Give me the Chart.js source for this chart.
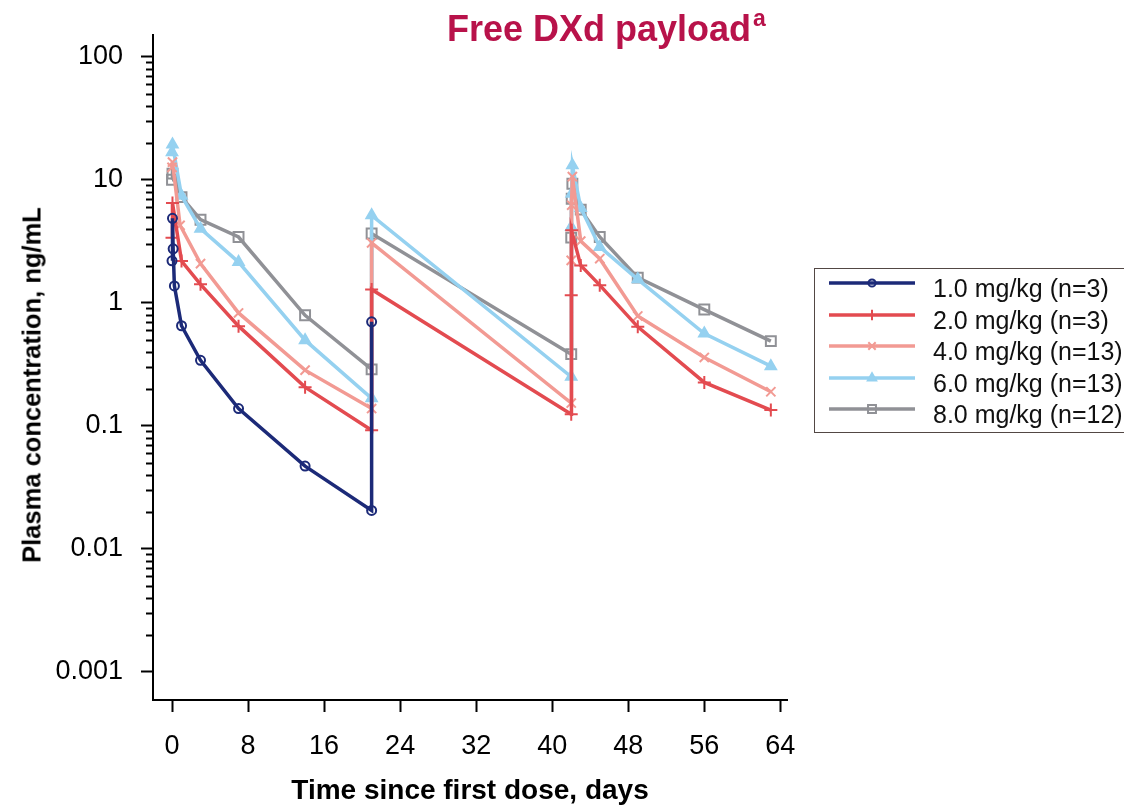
<!DOCTYPE html>
<html>
<head>
<meta charset="utf-8">
<script src="https://cdn.jsdelivr.net/npm/chart.js@4.4.1/dist/chart.umd.min.js"></script>
<style>
  html, body { margin: 0; padding: 0; background: #fff; overflow: hidden; }
  #wrap { position: relative; width: 1124px; height: 808px; font-family: "Liberation Sans", Arial, sans-serif; }
  #chart { position: absolute; left: 0; top: 0; }
  #title {
    position: absolute; left: 447px; top: 11px;
    font-size: 36px; line-height: 36px; font-weight: bold; color: #b8124a; white-space: nowrap;
  }
  #title span { font-size: 23px; position: relative; top: -15px; margin-left: 2px; }
  #ytitle {
    position: absolute; left: 32px; top: 385px; transform: translate(-50%, -50%) rotate(-90deg);
    font-size: 25.5px; font-weight: bold; white-space: nowrap; color: #000;
  }
  #legend {
    position: absolute; left: 814px; top: 268px; width: 330px; height: 165px;
    border: 1.5px solid #524744; box-sizing: border-box; padding-top: 2px;
  }
  .row { position: relative; height: 31.6px; }
  .row canvas { position: absolute; left: 12px; top: 0; }
  .row .lbl { position: absolute; left: 118px; top: 2px; font-size: 25px; line-height: 31px; color: #111; white-space: nowrap; }
</style>
</head>
<body>
<div id="wrap">
  <canvas id="chart" width="1124" height="808"></canvas>
  <div id="title">Free DXd payload<span>a</span></div>
  <div id="ytitle">Plasma concentration, ng/mL</div>
  <div id="legend"></div>
</div>
<script>
// tick values / labels
const dayTicks = [0, 8, 16, 24, 32, 40, 48, 56, 64];
const concTicks = [0.001, 0.01, 0.1, 1, 10, 100];
const concTickLabels = ['0.001', '0.01', '0.1', '1', '10', '100'];

const seriesNames = ['1.0 mg/kg (n=3)', '2.0 mg/kg (n=3)', '4.0 mg/kg (n=13)', '6.0 mg/kg (n=13)', '8.0 mg/kg (n=12)'];

// 1.0 mg/kg
const days1mg = [0, 0.05, 0.12, 0.25, 1, 3, 7, 14, 21, 21];
const conc1mg = [2.19, 4.85, 2.74, 1.37, 0.65, 0.34, 0.138, 0.047, 0.0205, 0.70];
// 2.0 mg/kg
const days2mg = [0, 0.05, 1, 3, 7, 14, 21, 21, 42, 42, 42.05, 43, 45, 49, 56, 63];
const conc2mg = [3.38, 6.46, 2.18, 1.41, 0.645, 0.206, 0.092, 1.28, 0.124, 1.15, 3.88, 2.01, 1.39, 0.637, 0.225, 0.134];
// 4.0 mg/kg
const days4mg = [0, 0.05, 0.85, 3, 7, 14, 21, 21, 42, 42, 42.05, 42.12, 43, 45, 49, 56, 63];
const conc4mg = [12.6, 13.9, 4.26, 2.08, 0.826, 0.283, 0.138, 3.06, 0.153, 2.21, 6.2, 10.6, 3.17, 2.28, 0.78, 0.359, 0.189];
// 6.0 mg/kg
const days6mg = [0, 0.05, 1, 3, 7, 14, 21, 21, 42, 42, 42.05, 42.12, 43, 45, 49, 56, 63];
const conc6mg = [16.7, 19.3, 7.4, 4.0, 2.14, 0.496, 0.167, 5.13, 0.25, 4.12, 7.7, 13.1, 5.9, 2.84, 1.55, 0.562, 0.305];
// 8.0 mg/kg
const days8mg = [0, 0.05, 1, 3, 7, 14, 21, 21, 42, 42, 42.05, 42.12, 43, 45, 49, 56, 63];
const conc8mg = [10.0, 11.2, 7.22, 4.73, 3.42, 0.79, 0.287, 3.65, 0.382, 3.38, 7.0, 9.28, 5.71, 3.42, 1.60, 0.88, 0.487];

const colors = ['#1c2a78', '#e34b50', '#f29a93', '#95d1f0', '#909196'];
const pointStyles = ['circle', 'cross', 'crossRot', 'triangle', 'rect'];
const pointRadii = [4.5, 6.5, 6.5, 6, 7];
const filled = [false, false, false, true, false];

const allDays = [days1mg, days2mg, days4mg, days6mg, days8mg];
const allConc = [conc1mg, conc2mg, conc4mg, conc6mg, conc8mg];

const toPoints = (xs, ys) => xs.map((x, i) => ({ x: x, y: ys[i] }));

Chart.defaults.font.family = '"Liberation Sans", Arial, sans-serif';
Chart.defaults.color = '#000';

const datasets = seriesNames.map((name, i) => ({
  label: name,
  data: toPoints(allDays[i], allConc[i]),
  borderColor: colors[i],
  borderWidth: 3.5,
  pointStyle: pointStyles[i],
  pointRadius: pointRadii[i],
  pointBorderWidth: 2,
  pointBorderColor: colors[i],
  pointBackgroundColor: filled[i] ? colors[i] : 'rgba(0,0,0,0)',
  tension: 0,
}));

// short minor ticks on the log axis
const minorTicks = {
  id: 'minorTicks',
  afterDraw(chart) {
    const s = chart.scales.y;
    const ctx = chart.ctx;
    ctx.save();
    ctx.strokeStyle = '#000';
    ctx.lineWidth = 2;
    for (let k = -3; k <= 1; k++) {
      for (let m = 2; m <= 9; m++) {
        const py = Math.round(s.getPixelForValue(m * Math.pow(10, k))) + 0.5;
        ctx.beginPath();
        ctx.moveTo(s.right - 7, py);
        ctx.lineTo(s.right, py);
        ctx.stroke();
      }
    }
    ctx.restore();
  },
};

const ctx = document.getElementById('chart').getContext('2d');
new Chart(ctx, {
  type: 'line',
  data: { datasets: datasets },
  options: {
    responsive: false,
    animation: false,
    layout: { padding: { left: 0, right: 337, top: 35, bottom: 0 } },
    scales: {
      x: {
        type: 'linear',
        min: -2,
        max: 64.7,
        afterFit: (s) => { s.height = 108; },
        afterBuildTicks: (s) => { s.ticks = dayTicks.map((v) => ({ value: v })); },
        grid: { drawOnChartArea: false, drawTicks: true, tickLength: 12, tickWidth: 2, tickColor: '#000' },
        border: { display: true, color: '#000', width: 2 },
        ticks: { font: { size: 27 }, padding: 18, maxRotation: 0 },
        title: { display: true, text: 'Time since first dose, days', font: { size: 28, weight: 'bold' }, padding: { top: 0, bottom: 0 } },
      },
      y: {
        type: 'logarithmic',
        min: 0.00059,
        max: 150,
        afterFit: (s) => { s.width = 153; },
        afterBuildTicks: (s) => { s.ticks = concTicks.map((v) => ({ value: v })); },
        grid: { drawOnChartArea: false, drawTicks: true, tickLength: 12, tickWidth: 2, tickColor: '#000' },
        border: { display: true, color: '#000', width: 2 },
        ticks: {
          font: { size: 27 },
          padding: 18,
          callback: (v) => {
            const i = concTicks.findIndex((t) => Math.abs(t - v) / t < 1e-6);
            return i >= 0 ? concTickLabels[i] : '';
          },
        },
      },
    },
    plugins: {
      legend: { display: false },
      tooltip: { enabled: false },
    },
  },
  plugins: [minorTicks],
});

// legend built from the same series
const legend = document.getElementById('legend');
seriesNames.forEach((name, i) => {
  const row = document.createElement('div');
  row.className = 'row';
  const c = document.createElement('canvas');
  c.width = 90; c.height = 24;
  const g = c.getContext('2d');
  g.strokeStyle = colors[i];
  g.lineWidth = 3.5;
  g.beginPath(); g.moveTo(2, 12); g.lineTo(88, 12); g.stroke();
  g.lineWidth = 2;
  g.fillStyle = filled[i] ? colors[i] : 'rgba(0,0,0,0)';
  Chart.helpers.drawPoint(g, { pointStyle: pointStyles[i], radius: pointRadii[i] * 0.8, borderWidth: 2 }, 45, 12);
  row.appendChild(c);
  const t = document.createElement('div');
  t.className = 'lbl';
  t.textContent = name;
  row.appendChild(t);
  legend.appendChild(row);
});
</script>
</body>
</html>
